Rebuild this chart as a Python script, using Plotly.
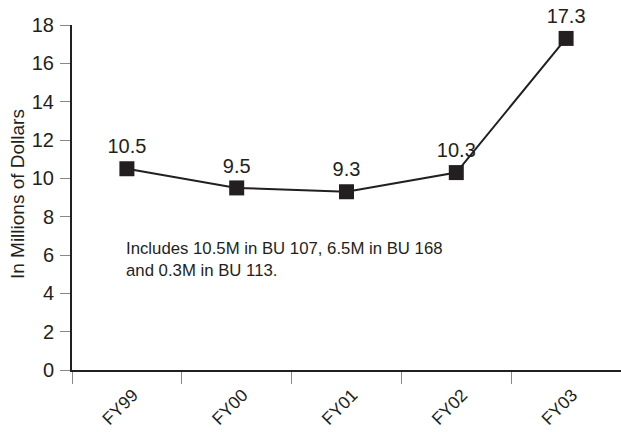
import plotly.graph_objects as go

categories = ["FY99", "FY00", "FY01", "FY02", "FY03"]
values = [10.5, 9.5, 9.3, 10.3, 17.3]
value_labels = ["10.5", "9.5", "9.3", "10.3", "17.3"]
y_ticks = [0, 2, 4, 6, 8, 10, 12, 14, 16, 18]

FONT = "Liberation Sans, Arial, sans-serif"

fig = go.Figure()
fig.add_trace(go.Scatter(
    x=categories, y=values, mode="lines+markers+text",
    text=value_labels, textposition="top center",
    textfont=dict(family=FONT, size=20, color="#231f20"),
    line=dict(color="#231f20", width=2),
    marker=dict(symbol="square", size=15, color="#231f20"),
    cliponaxis=False, showlegend=False,
))

fig.update_layout(
    width=621, height=432,
    margin=dict(l=72, r=0, t=25, b=62, autoexpand=False),
    paper_bgcolor="white", plot_bgcolor="white",
    font=dict(family=FONT, color="#231f20"),
    xaxis=dict(
        type="category", tickson="boundaries", range=[-0.5, 4.5],
        showgrid=False, zeroline=False, automargin=False,
        showline=True, linecolor="#231f20", linewidth=2,
        ticks="outside", ticklen=12, tickcolor="#888888", tickwidth=1,
        tickangle=-45, tickfont=dict(size=17.5, family=FONT, color="#231f20"),
        ticklabelstandoff=6, ticklabelshift=6,
    ),
    yaxis=dict(
        range=[0, 18], tickvals=y_ticks, showgrid=False, zeroline=False,
        automargin=False,
        showline=True, linecolor="#231f20", linewidth=2,
        ticks="outside", ticklen=10, tickcolor="#888888", tickwidth=1,
        tickfont=dict(size=20, family=FONT, color="#231f20"),
        ticklabelstandoff=2,
    ),
    annotations=[
        dict(text="In Millions of Dollars", textangle=-90,
             xref="paper", yref="paper", x=(17 - 72) / 549, y=0.51,
             xanchor="center", yanchor="middle", showarrow=False,
             font=dict(size=19, family=FONT, color="#231f20")),
        dict(text="Includes 10.5M in BU 107, 6.5M in BU 168<br>and 0.3M in BU 113.",
             xref="paper", yref="y", x=(124 - 72) / 549, y=5.75,
             xanchor="left", yanchor="middle", align="left", showarrow=False,
             font=dict(size=16.75, family=FONT, color="#231f20")),
    ],
)

# remove the browser's default 8px body margin so the figure fills the window
fig.write_html("out.html", config={"displayModeBar": False},
               post_script="document.body.style.margin='0';")
